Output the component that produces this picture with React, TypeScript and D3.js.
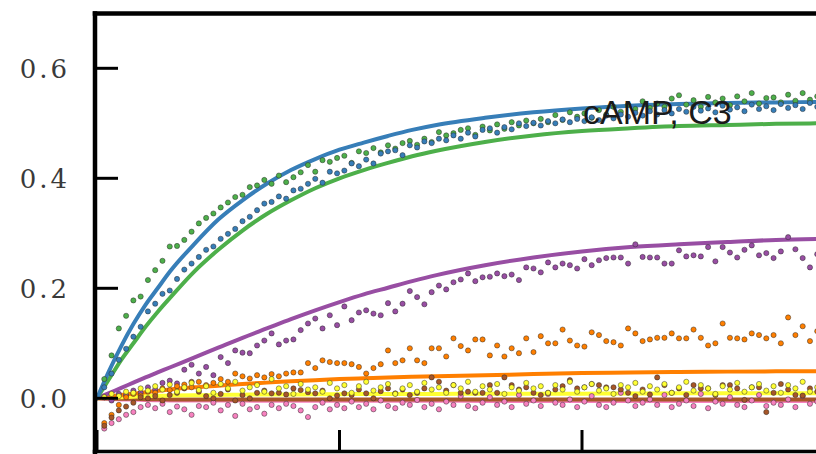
import React from "react";
import * as d3 from "d3";

// sampling interval of the measured points (time units)
const dt = 0.3;

const greenPts = [
  0.035, 0.078, 0.127, 0.15, 0.178, 0.185, 0.215, 0.233, 0.25, 0.276,
  0.277, 0.288, 0.303, 0.318, 0.328, 0.336, 0.347, 0.356, 0.366, 0.37,
  0.384, 0.387, 0.397, 0.39, 0.405, 0.393, 0.402, 0.411, 0.424, 0.412,
  0.433, 0.43, 0.437, 0.441, 0.428, 0.449, 0.446, 0.455, 0.447, 0.46,
  0.454, 0.464, 0.468, 0.461, 0.472, 0.466, 0.484, 0.478, 0.482, 0.488,
  0.491, 0.479, 0.494, 0.487, 0.498, 0.49, 0.502, 0.496, 0.505, 0.5,
  0.508, 0.502, 0.515, 0.506, 0.52, 0.512, 0.518, 0.51, 0.524, 0.516,
  0.53, 0.521, 0.534, 0.526, 0.54, 0.528, 0.536, 0.53, 0.545, 0.551,
  0.534, 0.542, 0.53, 0.548, 0.538, 0.545, 0.533, 0.549, 0.54, 0.555,
  0.536, 0.546, 0.547, 0.538, 0.552, 0.541, 0.555, 0.543, 0.549,
];

const bluePts = [
  0.02, 0.045, 0.07, 0.09, 0.112, 0.13, 0.158, 0.172, 0.19, 0.196,
  0.217, 0.234, 0.245, 0.257, 0.27, 0.276, 0.29, 0.299, 0.308, 0.322,
  0.33, 0.342, 0.354, 0.357, 0.367, 0.363, 0.378, 0.381, 0.39, 0.399,
  0.392, 0.412, 0.409, 0.414, 0.427, 0.422, 0.434, 0.427, 0.445, 0.449,
  0.451, 0.442, 0.46, 0.456, 0.467, 0.464, 0.472, 0.469, 0.478, 0.472,
  0.483, 0.476, 0.488, 0.491, 0.483, 0.493, 0.489, 0.5, 0.495, 0.501,
  0.496, 0.504, 0.5, 0.507, 0.502, 0.508, 0.504, 0.511, 0.506, 0.514,
  0.509, 0.516, 0.512, 0.519, 0.514, 0.522, 0.516, 0.524, 0.518, 0.526,
  0.521, 0.53, 0.523, 0.527, 0.52, 0.532, 0.525, 0.529, 0.522, 0.534,
  0.526, 0.531, 0.524, 0.535, 0.528, 0.533, 0.526, 0.537, 0.53,
];

const purplePts = [
  0.002, -0.004, 0.008, 0.006, 0.014, 0.01, 0.02, 0.016, 0.028, 0.032,
  0.027, 0.052, 0.061, 0.045, 0.057, 0.042, 0.075, 0.064, 0.087, 0.083,
  0.082, 0.096, 0.105, 0.118, 0.098, 0.105, 0.107, 0.124, 0.136, 0.145,
  0.127, 0.151, 0.133, 0.167, 0.142, 0.156, 0.16, 0.154, 0.151, 0.173,
  0.158, 0.172, 0.195, 0.184, 0.171, 0.193, 0.205, 0.198, 0.211, 0.216,
  0.227, 0.213, 0.22, 0.221, 0.227, 0.222, 0.225, 0.215, 0.238, 0.236,
  0.229, 0.247, 0.238, 0.245, 0.242, 0.236, 0.253, 0.242, 0.251, 0.255,
  0.256, 0.256, 0.245, 0.28, 0.257, 0.256, 0.256, 0.245, 0.245, 0.269,
  0.258, 0.26, 0.258, 0.275, 0.249, 0.275, 0.265, 0.256, 0.27, 0.278,
  0.26, 0.264, 0.255, 0.267, 0.293, 0.271, 0.255, 0.238, 0.262,
];

const orangePts = [
  -0.045, -0.03, -0.012, 0.002, 0.008, 0.005, 0.012, 0.01, 0.018, 0.015,
  0.022, 0.025, 0.02, 0.03, 0.024, 0.028, 0.035, 0.03, 0.045, 0.04,
  0.036, 0.042, 0.038, 0.044, 0.04, 0.045, 0.047, 0.047, 0.064, 0.055,
  0.069, 0.066, 0.064, 0.064, 0.062, 0.057, 0.045, 0.055, 0.062, 0.087,
  0.064, 0.069, 0.091, 0.069, 0.064, 0.091, 0.091, 0.076, 0.109, 0.095,
  0.087, 0.107, 0.107, 0.078, 0.096, 0.076, 0.091, 0.082, 0.109, 0.084,
  0.113, 0.1, 0.1, 0.125, 0.105, 0.096, 0.094, 0.12, 0.115, 0.104,
  0.102, 0.096, 0.127, 0.118, 0.104, 0.107, 0.11, 0.11, 0.118, 0.109,
  0.109, 0.125, 0.11, 0.096, 0.1, 0.136, 0.11, 0.109, 0.107, 0.118,
  0.115, 0.109, 0.115, 0.1, 0.147, 0.115, 0.131, 0.104, 0.122,
];

const yellowPts = [
  0.002, 0.008, 0.004, 0.012, 0.01, 0.018, 0.014, 0.022, 0.016, 0.025,
  0.012, 0.02, 0.028, 0.015, 0.022, 0.01, 0.026, 0.018, 0.03, 0.014,
  0.02, 0.024, 0.012, 0.035, 0.018, 0.022, 0.008, 0.026, 0.016, 0.02,
  0.012, 0.028, 0.018, 0.024, 0.01, 0.022, 0.03, 0.014, 0.02, 0.026,
  0.008, 0.018, 0.024, 0.012, 0.028, 0.016, 0.02, 0.01, 0.024, 0.018,
  0.03, 0.012, 0.022, 0.016, 0.026, 0.008, 0.02, 0.014, 0.028, 0.018,
  0.022, 0.01, 0.024, 0.016, 0.03, 0.012, 0.02, 0.026, 0.014, 0.018,
  0.008, 0.024, 0.02, 0.028, 0.012, 0.022, 0.016, 0.026, 0.01, 0.02,
  0.03, 0.014, 0.024, 0.018, 0.008, 0.022, 0.016, 0.028, 0.012, 0.02,
  0.026, 0.014, 0.022, 0.01, 0.024, 0.018, 0.03, 0.012, 0.02,
];

const brownPts = [
  -0.05, -0.035, -0.022, -0.015, -0.008, 0.002, 0.0, 0.004, -0.004, 0.006,
  0.01, 0.018, 0.03, 0.012, 0.004, 0.0, 0.008, 0.016, -0.004, 0.006,
  0.0, 0.01, 0.014, 0.009, 0.01, 0.007, 0.018, 0.015, 0.011, 0.009,
  0.014, 0.0, 0.005, 0.009, 0.006, 0.016, 0.009, 0.0, 0.013, 0.018,
  0.009, 0.016, 0.006, 0.01, 0.018, 0.038, 0.03, 0.014, 0.024, 0.01,
  0.012, 0.01, 0.01, 0.024, 0.01, 0.038, 0.024, 0.016, 0.02, 0.01,
  0.006, 0.01, 0.016, 0.022, 0.033, 0.018, 0.02, 0.026, 0.024, 0.02,
  0.02, 0.016, 0.01, 0.004, 0.016, 0.007, 0.038, 0.024, 0.01, 0.018,
  0.006, 0.024, 0.018, 0.018, 0.006, 0.024, 0.024, 0.018, -0.003, 0.02,
  0.02, -0.025, 0.01, 0.026, 0.016, 0.006, 0.005, 0.018, 0.012,
];

const pinkPts = [
  -0.055, -0.045, -0.038, -0.03, -0.025, -0.016, -0.012, -0.018, -0.01, -0.025,
  -0.015, -0.02, -0.03, -0.014, -0.016, -0.008, -0.022, -0.012, -0.032, -0.01,
  -0.02, -0.016, -0.028, -0.012, -0.018, -0.01, -0.014, -0.022, -0.034, -0.016,
  -0.008, -0.02, -0.012, -0.018, -0.006, -0.016, -0.01, -0.02, -0.004, -0.014,
  -0.018, -0.008, -0.012, -0.003, -0.016, -0.01, -0.02, -0.006, -0.012, 0.004,
  -0.014, -0.018, -0.008, 0.002, -0.012, -0.006, -0.016, 0.006, -0.01, -0.004,
  -0.014, 0.008, -0.008, -0.012, -0.002, -0.016, -0.006, 0.004, -0.012, -0.016,
  -0.008, 0.01, -0.004, -0.014, -0.008, -0.002, -0.012, 0.006, -0.016, -0.01,
  -0.004, -0.014, 0.008, -0.018, -0.006, -0.01, 0.002, -0.012, -0.016, -0.004,
  0.006, -0.014, -0.008, -0.012, -0.002, -0.016, 0.004, -0.01, -0.006,
];

// fitted curves, read at these times
const fitTimes = [0, 0.5, 1, 1.5, 2, 2.5, 3, 4, 5, 6, 7, 8, 9, 10, 11, 12, 13, 14, 16, 18, 20, 22, 24, 26, 28, 30];
const blueFit = [0, 0.05, 0.095, 0.135, 0.17, 0.2, 0.23, 0.28, 0.325, 0.36, 0.39, 0.415, 0.435, 0.452, 0.465, 0.477, 0.488, 0.497, 0.51, 0.52, 0.527, 0.532, 0.535, 0.537, 0.538, 0.539];
const greenFit = [0, 0.035, 0.07, 0.1, 0.13, 0.157, 0.182, 0.23, 0.27, 0.305, 0.335, 0.36, 0.382, 0.4, 0.415, 0.428, 0.44, 0.45, 0.466, 0.478, 0.486, 0.491, 0.495, 0.497, 0.499, 0.5];
const purpleFit = [0, 0.0095, 0.019, 0.0285, 0.038, 0.047, 0.056, 0.074, 0.092, 0.11, 0.127, 0.144, 0.16, 0.175, 0.189, 0.201, 0.213, 0.224, 0.242, 0.256, 0.267, 0.275, 0.28, 0.284, 0.288, 0.29];
const orangeFit = [0, 0.003, 0.006, 0.0085, 0.011, 0.0135, 0.016, 0.02, 0.023, 0.026, 0.0285, 0.031, 0.033, 0.035, 0.0365, 0.038, 0.039, 0.04, 0.042, 0.044, 0.046, 0.047, 0.048, 0.0485, 0.049, 0.049];
const yellowFit = [0, 0.001, 0.002, 0.003, 0.004, 0.0045, 0.005, 0.0055, 0.006, 0.0065, 0.007, 0.007, 0.0072, 0.0075, 0.0078, 0.008, 0.008, 0.008, 0.0082, 0.0085, 0.0085, 0.0088, 0.009, 0.009, 0.009, 0.009];
const brownFit = [0, -0.0005, -0.001, -0.001, -0.0015, -0.0015, -0.002, -0.002, -0.002, -0.002, -0.002, -0.002, -0.002, -0.002, -0.002, -0.002, -0.002, -0.002, -0.002, -0.002, -0.002, -0.002, -0.002, -0.002, -0.002, -0.002];
const pinkFit = [0, -0.001, -0.002, -0.0025, -0.003, -0.0035, -0.0038, -0.004, -0.004, -0.0042, -0.0044, -0.0045, -0.0045, -0.0045, -0.0046, -0.0046, -0.0046, -0.0046, -0.0047, -0.0047, -0.0047, -0.0047, -0.0047, -0.0047, -0.0047, -0.0047];

const yTicks = [0, 0.2, 0.4, 0.6];
const yTickLabels = ["0.0", "0.2", "0.4", "0.6"];
const xTicks = [0, 10, 20, 30];
const annotation = "cAMP, C3";

const COLORS = {
  blue: "#377eb8",
  green: "#4daf4a",
  purple: "#984ea3",
  orange: "#ff7f00",
  yellow: "#ffff33",
  brown: "#a65628",
  pink: "#f781bf",
};

export default function App() {
  const W = 816, H = 454;
  const left = 95, top = 13.5, bottom = 451.5;
  const x = d3.scaleLinear().domain([0, 10]).range([97, 339.5]);
  const y = d3.scaleLinear().domain([0, 0.6]).range([398.3, 68.3]);

  const line = d3
    .line<[number, number]>()
    .x((d) => x(d[0]))
    .y((d) => y(d[1]))
    .curve(d3.curveMonotoneX);

  const fits: [number[], string][] = [
    [pinkFit, COLORS.pink],
    [brownFit, COLORS.brown],
    [yellowFit, COLORS.yellow],
    [orangeFit, COLORS.orange],
    [purpleFit, COLORS.purple],
    [greenFit, COLORS.green],
    [blueFit, COLORS.blue],
  ];

  const pts: [number[], string][] = [
    [greenPts, COLORS.green],
    [bluePts, COLORS.blue],
    [purplePts, COLORS.purple],
    [orangePts, COLORS.orange],
    [pinkPts, COLORS.pink],
    [brownPts, COLORS.brown],
    [yellowPts, COLORS.yellow],
  ];

  return (
    <svg
      width={W}
      height={H}
      style={{ position: "absolute", left: 0, top: 0, background: "#fff" }}
    >
      <defs>
        <clipPath id="plot">
          <rect x={left} y={top} width={W - left} height={bottom - top} />
        </clipPath>
      </defs>
      <g clipPath="url(#plot)">
        {fits.map(([vals, c], k) => (
          <path
            key={"f" + k}
            d={line(fitTimes.map((t, i) => [t, vals[i]] as [number, number])) || ""}
            fill="none"
            stroke={c}
            strokeWidth={4}
            strokeLinecap="round"
          />
        ))}
        {pts.map(([vals, c], k) => (
          <g key={"p" + k}>
            {vals.map((v, i) => (
              <circle
                key={i}
                cx={x((i + 1) * dt)}
                cy={y(v)}
                r={2.6}
                fill={c}
                stroke="rgba(40,40,40,0.6)"
                strokeWidth={0.8}
              />
            ))}
          </g>
        ))}
      </g>
      <text
        x={583}
        y={124}
        fontFamily="'Liberation Sans', Arial, sans-serif"
        fontSize={34}
        fill="#1a1a1a"
      >
        {annotation}
      </text>
      {/* spines */}
      <line x1={left} x2={left} y1={top - 2.25} y2={H} stroke="#000" strokeWidth={4.5} />
      <line x1={left - 2.25} x2={W} y1={top} y2={top} stroke="#000" strokeWidth={4.5} />
      <line x1={left - 2.25} x2={W} y1={bottom} y2={bottom} stroke="#000" strokeWidth={3.5} />
      {/* y ticks */}
      {yTicks.map((v, i) => (
        <g key={"yt" + i}>
          <line x1={left} x2={118} y1={y(v)} y2={y(v)} stroke="#000" strokeWidth={3} />
          <text
            x={70}
            y={y(v) + 9.5}
            textAnchor="end"
            fontFamily="'DejaVu Serif', serif"
            fontSize={26}
            letterSpacing={3}
            fill="#3a3a3a"
          >
            {yTickLabels[i]}
          </text>
        </g>
      ))}
      {/* x ticks */}
      {xTicks.map((t, i) => (
        <line
          key={"xt" + i}
          x1={x(t)}
          x2={x(t)}
          y1={bottom}
          y2={430}
          stroke="#000"
          strokeWidth={3}
        />
      ))}
    </svg>
  );
}
